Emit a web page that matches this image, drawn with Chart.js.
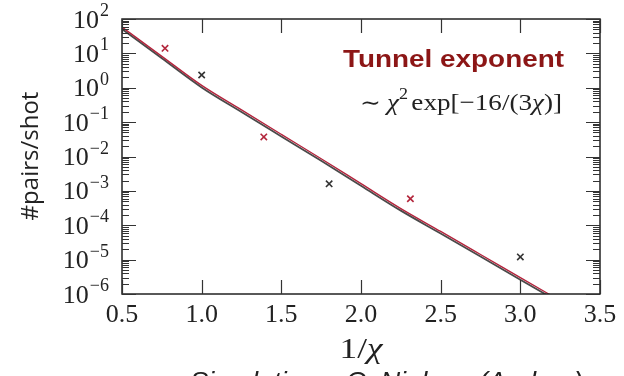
<!DOCTYPE html>
<html>
<head>
<meta charset="utf-8">
<script src="https://cdn.jsdelivr.net/npm/chart.js@4/dist/chart.umd.min.js"></script>
<style>
  html, body { margin: 0; padding: 0; background: #fff; }
  #wrap { width: 624px; height: 376px; }
</style>
</head>
<body>
<div id="wrap"><canvas id="c" width="624" height="376"></canvas></div>
<script>
// Tunnel-exponent curves (pair of nearly coincident lines), sampled along 1/chi
const curveX     = [0.5, 0.75, 1.0, 1.25, 1.5, 1.75, 2.0, 2.25, 2.5, 2.75, 3.0, 3.25];
const tunnelRed  = [58, 8.2, 1.17, 0.226, 0.044, 8.6e-3, 1.62e-3, 3.05e-4, 6.6e-5, 1.41e-5, 3.0e-6, 6.4e-7];
const tunnelGray = [51, 7.2, 1.02, 0.197, 0.0384, 7.5e-3, 1.41e-3, 2.66e-4, 5.75e-5, 1.23e-5, 2.6e-6, 5.6e-7];

// Simulated pair yields (crosses)
const redPtsX   = [0.77, 1.39, 2.31];
const redPtsY   = [14, 0.037, 5.9e-4];
const blackPtsX = [1.0, 1.8, 3.0];
const blackPtsY = [2.35, 1.6e-3, 1.2e-5];

// Axis ticks
const xTicks     = [0.5, 1.0, 1.5, 2.0, 2.5, 3.0, 3.5];
const yExponents = [-6, -5, -4, -3, -2, -1, 0, 1, 2];

const SERIF = '"Liberation Serif", "DejaVu Serif", serif';
const INK = '#222';

// Draw a run of differently styled text pieces, optionally stretched to a width
function drawRun(ctx, segs, x, y, align, targetWidth) {
  let w = 0;
  segs.forEach(s => { ctx.font = s.font; s.w = ctx.measureText(s.t).width; w += s.w + (s.gap || 0); });
  const sx = targetWidth ? targetWidth / w : 1;
  const start = align === 'right' ? x - w * sx : align === 'center' ? x - w * sx / 2 : x;
  ctx.save();
  ctx.textAlign = 'left';
  ctx.textBaseline = 'alphabetic';
  ctx.translate(start, y);
  ctx.scale(sx, 1);
  let cx = 0;
  segs.forEach(s => {
    ctx.font = s.font;
    ctx.fillStyle = s.color || ctx.fillStyle;
    ctx.fillText(s.t, cx, s.dy || 0);
    cx += s.w + (s.gap || 0);
  });
  ctx.restore();
}

const framePlugin = {
  id: 'frameAndText',
  afterDraw(chart) {
    const ctx = chart.ctx;
    const a = chart.chartArea;
    const xs = chart.scales.x, ys = chart.scales.y;

    // frame
    ctx.save();
    ctx.strokeStyle = INK;
    ctx.lineWidth = 1.5;
    ctx.strokeRect(a.left, a.top, a.right - a.left, a.bottom - a.top);

    // inward tick marks on all four sides
    ctx.strokeStyle = '#333';
    ctx.lineWidth = 1.2;
    ctx.beginPath();
    xs.ticks.forEach(t => {
      const px = Math.round(xs.getPixelForValue(t.value)) + 0.5;
      ctx.moveTo(px, a.bottom); ctx.lineTo(px, a.bottom - 14);
      ctx.moveTo(px, a.top); ctx.lineTo(px, a.top + 14);
    });
    ys.ticks.forEach(t => {
      const py = Math.round(ys.getPixelForValue(t.value)) + 0.5;
      const len = t.major ? 14 : 7;
      ctx.moveTo(a.left, py); ctx.lineTo(a.left + len, py);
      ctx.moveTo(a.right, py); ctx.lineTo(a.right - len, py);
    });
    ctx.stroke();
    ctx.restore();

    // y tick labels: 10 with superscript exponent
    ctx.save();
    ctx.fillStyle = INK;
    yExponents.forEach(e => {
      const py = ys.getPixelForValue(Math.pow(10, e));
      const exp = e < 0 ? '\u2212' + Math.abs(e) : String(e);
      drawRun(ctx, [
        { t: '10', font: '26px ' + SERIF, dy: 8.5, gap: 1 },
        { t: exp, font: '18px ' + SERIF, dy: -3 }
      ], 109, py, 'right');
    });
    ctx.restore();

    // x axis title 1/chi
    ctx.save();
    ctx.fillStyle = INK;
    drawRun(ctx, [
      { t: '1/', font: '29px ' + SERIF },
      { t: '\u03C7', font: 'italic 29px ' + SERIF }
    ], (a.left + a.right) / 2, 358, 'center', 43);
    ctx.restore();

    // y axis title
    ctx.save();
    ctx.fillStyle = INK;
    ctx.translate(38, 156);
    ctx.rotate(-Math.PI / 2);
    ctx.font = '24px "Open Sans", "Noto Sans", sans-serif';
    ctx.textAlign = 'center';
    ctx.textBaseline = 'alphabetic';
    ctx.fillText('#pairs/shot', 0, 0);
    ctx.restore();

    // annotation
    ctx.save();
    drawRun(ctx, [
      { t: 'Tunnel exponent', font: 'bold 23px "Liberation Sans", Arial, sans-serif', color: '#8c1616' }
    ], 564, 67, 'right', 221);
    ctx.fillStyle = INK;
    drawRun(ctx, [
      { t: '\u223C ', font: '22px ' + SERIF },
      { t: '\u03C7', font: 'italic 24px ' + SERIF },
      { t: '2', font: '16px ' + SERIF, dy: -11, gap: 3 },
      { t: 'exp[\u221216/(3', font: '24px ' + SERIF },
      { t: '\u03C7', font: 'italic 24px ' + SERIF },
      { t: ')]', font: '24px ' + SERIF }
    ], 562, 110, 'right', 202);
    ctx.restore();

    // credit line along the bottom edge
    ctx.save();
    ctx.fillStyle = INK;
    drawRun(ctx, [
      { t: 'Simulations: C. Nielsen (Aarhus)', font: 'italic 26px "Liberation Sans", Arial, sans-serif' }
    ], 190, 390, 'left', 393);
    ctx.restore();
  }
};

const toPts = (xs, ys) => xs.map((x, i) => ({ x: x, y: ys[i] }));

new Chart(document.getElementById('c'), {
  type: 'line',
  data: {
    datasets: [
      {
        type: 'scatter', label: 'simulation (red)', data: toPts(redPtsX, redPtsY),
        pointStyle: 'crossRot', pointRadius: 4.5, pointBorderWidth: 1.6,
        borderColor: '#b3263c', backgroundColor: '#b3263c', showLine: false, order: 0
      },
      {
        type: 'scatter', label: 'simulation (black)', data: toPts(blackPtsX, blackPtsY),
        pointStyle: 'crossRot', pointRadius: 4.5, pointBorderWidth: 1.6,
        borderColor: '#333', backgroundColor: '#333', showLine: false, order: 1
      },
      {
        label: 'tunnel exponent (red)', data: toPts(curveX, tunnelRed),
        borderColor: '#b3243c', borderWidth: 1.4, pointRadius: 0,
        cubicInterpolationMode: 'monotone', fill: false, clip: 0, order: 2
      },
      {
        label: 'tunnel exponent (gray)', data: toPts(curveX, tunnelGray),
        borderColor: '#4a4a4a', borderWidth: 1.8, pointRadius: 0,
        cubicInterpolationMode: 'monotone', fill: false, clip: 0, order: 3
      }
    ]
  },
  options: {
    responsive: false,
    devicePixelRatio: 1,
    animation: false,
    layout: { padding: { top: 19, right: 24, left: 0, bottom: 0 } },
    plugins: { legend: { display: false }, tooltip: { enabled: false } },
    scales: {
      x: {
        type: 'linear', min: 0.5, max: 3.5,
        afterBuildTicks: s => { s.ticks = xTicks.map(v => ({ value: v })); },
        afterFit: s => { s.height = 82; },
        ticks: {
          callback: v => Number(v).toFixed(1),
          font: { family: 'Liberation Serif', size: 26 },
          color: INK, padding: 6, maxRotation: 0, autoSkip: false
        },
        grid: { display: false, drawTicks: false },
        border: { display: false }
      },
      y: {
        type: 'logarithmic', min: 1e-6, max: 1e2,
        afterBuildTicks: s => {
          const t = [];
          yExponents.forEach(e => {
            for (let m = 1; m <= 9; m++) {
              if (e === 2 && m > 1) break;
              t.push({ value: m * Math.pow(10, e), major: m === 1 });
            }
          });
          s.ticks = t;
        },
        afterFit: s => { s.width = 122; },
        ticks: { display: false, autoSkip: false },
        grid: { display: false, drawTicks: false },
        border: { display: false }
      }
    }
  },
  plugins: [framePlugin]
});
</script>
</body>
</html>
